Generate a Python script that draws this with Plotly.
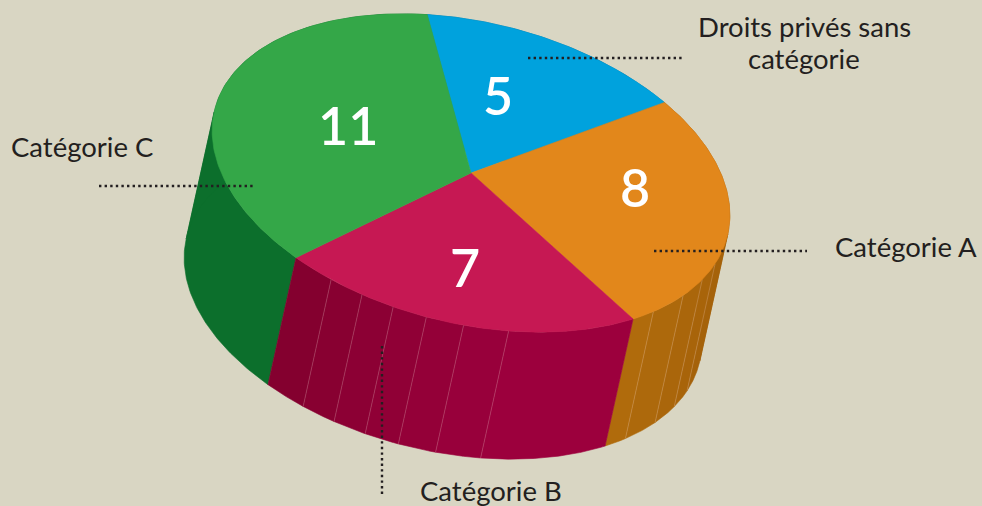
import numpy as np
import plotly.graph_objects as go

# ---- data ----
categories = ["Droits privés sans catégorie", "Catégorie A", "Catégorie B", "Catégorie C"]
values = [5, 8, 7, 11]
top_colors = ["#00a2dd", "#e2871b", "#c61853", "#34a748"]
wall_colors = ["#00709a", "#a8650b", "#8f0036", "#0c6f2c"]
# facet seams on the visible side walls, as a share of the slice, from its start
orange_seams = [0.658, 0.736, 0.825, 0.935]
crimson_seams = [0.374, 0.497, 0.599, 0.692, 0.783, 0.879]

# ---- projection of the tilted disc ----
CX, CY = 471, 173
A, B = 264, 150.5
TILT = np.radians(13.8)
DX, DY = -28, 127
START = -107.7

def ellipse(t_deg):
    t = np.radians(np.asarray(t_deg, dtype=float))
    x = CX + A * np.cos(t) * np.cos(TILT) - B * np.sin(t) * np.sin(TILT)
    y = CY + A * np.cos(t) * np.sin(TILT) + B * np.sin(t) * np.cos(TILT)
    return x, y

def mix(c1, c2, f):
    a = [int(c1[i:i + 2], 16) for i in (1, 3, 5)]
    b = [int(c2[i:i + 2], 16) for i in (1, 3, 5)]
    return "#" + "".join(f"{round(p + (q - p) * f):02x}" for p, q in zip(a, b))

def polygon(fig, x, y, color, name):
    fig.add_trace(go.Scatter(x=x, y=y, mode="lines", fill="toself", fillcolor=color,
                             line=dict(color=color, width=0.6), name=name,
                             hoverinfo="name"))

total = sum(values)
edges = START + np.cumsum([0] + values) * 360.0 / total

# angles where the extruded side's outline leaves the rim
du = (DX * np.cos(TILT) + DY * np.sin(TILT)) / A
dv = (-DX * np.sin(TILT) + DY * np.cos(TILT)) / B
SIL = np.degrees(np.arctan2(dv, du)) + 90.0

def silhouette_cuts(a, b):
    cuts = []
    for base in (SIL, SIL + 180.0):
        for k in range(-2, 3):
            t = base + 360.0 * k
            if a < t < b:
                cuts.append(t)
    return sorted(cuts)

fig = go.Figure()

def wall(i, seams, c_from, c_to):
    t1, t2 = edges[i], edges[i + 1]
    stops = [t1] + [t1 + s * (t2 - t1) for s in seams] + [t2]
    for k in range(len(stops) - 1):
        f = k / max(1, len(stops) - 2)
        parts = [stops[k]] + silhouette_cuts(stops[k], stops[k + 1]) + [stops[k + 1]]
        for p in range(len(parts) - 1):
            ts = np.linspace(parts[p], parts[p + 1], 80)
            x, y = ellipse(ts)
            polygon(fig, np.r_[x, (x + DX)[::-1], x[0]], np.r_[y, (y + DY)[::-1], y[0]],
                    mix(c_from, c_to, f), categories[i])
    for s in seams:
        x, y = ellipse(t1 + s * (t2 - t1))
        fig.add_trace(go.Scatter(x=[x, x + DX], y=[y, y + DY], mode="lines",
                                 line=dict(color="rgba(255,225,225,0.28)", width=0.8),
                                 hoverinfo="skip"))

# back-to-front: blue and green walls first, then the facetted front walls
wall(0, [], wall_colors[0], wall_colors[0])
wall(3, [], wall_colors[3], wall_colors[3])
wall(1, orange_seams, "#a5620a", "#b06b0c")
wall(2, crimson_seams, "#9c003d", "#84002f")

# top faces
for i, cat in enumerate(categories):
    ts = np.linspace(edges[i], edges[i + 1], 160)
    x, y = ellipse(ts)
    polygon(fig, np.r_[CX, x, CX], np.r_[CY, y, CY], top_colors[i], cat)

# leader lines
leaders = [((528, 58), (682, 58)), ((654, 251), (807, 251)),
           ((99, 186), (253, 186)), ((382, 346), (382, 497))]
for (x0, y0), (x1, y1) in leaders:
    fig.add_trace(go.Scatter(x=[x0, x1], y=[y0, y1], mode="lines",
                             line=dict(color="#231f20", width=2.4, dash="2.4px,3.2px"),
                             hoverinfo="skip"))

FONT = "Lato"
labels = [("Droits privés sans", 804, 26), ("catégorie", 804, 58),
          ("Catégorie A", 906, 246), ("Catégorie C", 82, 146),
          ("Catégorie B", 491, 490)]
annotations = [dict(x=x, y=y, xref="x", yref="y", text=t, showarrow=False,
                    font=dict(family=FONT, size=27.5, color="#231f20"))
               for t, x, y in labels]
value_pos = [(498, 95), (635, 187), (465, 267), (348, 125)]
annotations += [dict(x=p[0], y=p[1], xref="x", yref="y", text=str(v), showarrow=False,
                     font=dict(family=FONT, size=52, color="white", weight=600))
                for v, p in zip(values, value_pos)]

fig.update_layout(
    width=982, height=506, margin=dict(l=0, r=0, t=0, b=0),
    paper_bgcolor="#d9d6c3", plot_bgcolor="#d9d6c3", showlegend=False,
    xaxis=dict(range=[0, 982], visible=False, fixedrange=True),
    yaxis=dict(range=[506, 0], visible=False, fixedrange=True),
    annotations=annotations,
)
fig.write_html("out.html", config=dict(displayModeBar=False),
               post_script="document.body.style.margin='0';document.body.style.background='#d9d6c3';")
